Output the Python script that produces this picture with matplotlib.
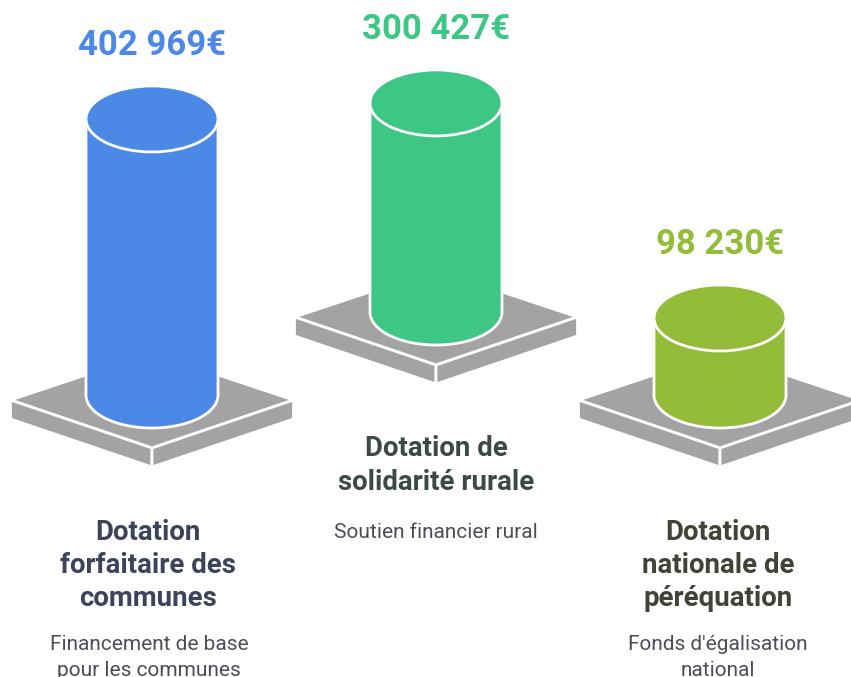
import matplotlib

matplotlib.use("Agg")
import matplotlib.pyplot as plt
import numpy as np
from matplotlib.patches import Ellipse, Polygon

# data
titles = ["Dotation\nforfaitaire des\ncommunes", "Dotation de\nsolidarité rurale", "Dotation\nnationale de\npéréquation"]
subtitles = ["Financement de base\npour les communes", "Soutien financier rural", "Fonds d'égalisation\nnational"]
amounts = [402969, 300427, 98230]

# layout, in pixels of the 851x677 image
center_x = [152, 436, 720]
base_y = [395, 312, 395]
title_x = [148, 436, 718]
title_y = [532, 449, 532]
sub_y = [645, 532, 645]
colors = ["#4c88e6", "#3ec685", "#93bc38"]
title_colors = ["#3b4459", "#3b4a47", "#3e4537"]
RX, RY = 66, 33
LINE_TITLE, LINE_SUB = 33.5, 25
EDGE = 2.0


def amount_label(value):
    return f"{value:,}€".replace(",", " ")


def cylinder_height(value):
    return 12.9 + value * 0.000653


def draw_plate(ax, cx, by):
    # plate sits a little lower than the cylinder base
    left, right = cx - 141.5, cx + 141.5
    top_y, mid_y, low_y = by - 47 + 5, by + 5, by + 53
    thick = 19
    gray = "#a3a3a3"
    ax.add_patch(Polygon([(left, mid_y), (cx, top_y), (right, mid_y), (cx, low_y)], fc=gray, ec="white", lw=EDGE, zorder=2))
    ax.add_patch(Polygon([(left, mid_y), (cx, low_y), (cx, low_y + thick), (left, mid_y + thick)], fc=gray, ec="white", lw=EDGE, zorder=2))
    ax.add_patch(Polygon([(right, mid_y), (cx, low_y), (cx, low_y + thick), (right, mid_y + thick)], fc=gray, ec="white", lw=EDGE, zorder=2))


def draw_cylinder(ax, cx, by, height, color):
    top = by - height
    theta = np.linspace(0, np.pi, 80)
    bottom_x = cx + RX * np.cos(theta)
    bottom_y = by + RY * np.sin(theta)
    pts = [(cx + RX, top)] + list(zip(bottom_x, bottom_y)) + [(cx - RX, top)]
    ax.add_patch(Polygon(pts, fc=color, ec="white", lw=EDGE, zorder=3))
    ax.add_patch(Ellipse((cx, top), RX * 2, RY * 2, fc=color, ec="white", lw=EDGE, zorder=4))


def main():
    fig = plt.figure(figsize=(8.51, 6.77), dpi=100)
    ax = fig.add_axes([0, 0, 1, 1])
    ax.set_xlim(0, 851)
    ax.set_ylim(677, 0)
    ax.axis("off")

    for i, value in enumerate(amounts):
        cx, by = center_x[i], base_y[i]
        height = cylinder_height(value)
        draw_plate(ax, cx, by)
        draw_cylinder(ax, cx, by, height, colors[i])

        ax.text(cx, by - height - 73, amount_label(value), color=colors[i], family="Roboto",
                weight="bold", fontsize=25, ha="center", va="center")

        for j, line in enumerate(titles[i].split("\n")):
            ax.text(title_x[i], title_y[i] + j * LINE_TITLE, line, color=title_colors[i], family="Roboto",
                    weight="bold", fontsize=19.9, ha="center", va="center")
        for j, line in enumerate(subtitles[i].split("\n")):
            ax.text(title_x[i] + (1 if i == 0 else 0), sub_y[i] + j * LINE_SUB, line, color="#4b4f55", family="Roboto",
                    fontsize=15, ha="center", va="center")

    fig.savefig("out.png", dpi=100)
    plt.close(fig)


if __name__ == "__main__":
    main()
